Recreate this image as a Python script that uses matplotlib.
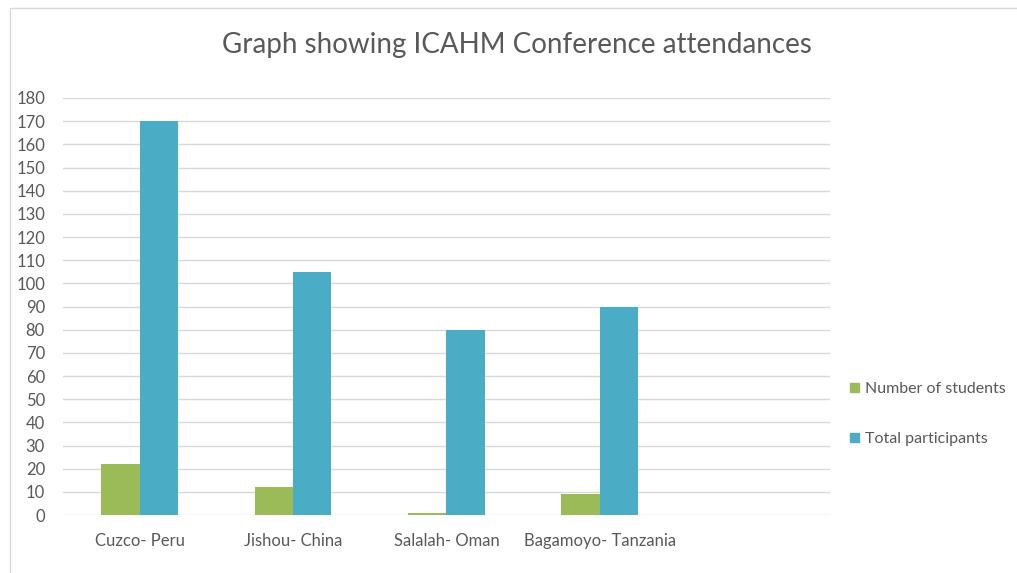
import numpy as np
import matplotlib.pyplot as plt
from matplotlib.patches import Patch, Rectangle

plt.rcParams['font.family'] = ['Lato', 'DejaVu Sans']

places = ["Cuzco- Peru", "Jishou- China", "Salalah- Oman", "Bagamoyo- Tanzania", ""]
students = [22, 12, 1, 9, 0]
total = [170, 105, 80, 90, 0]

green = "#9BBB59"
blue = "#4BACC6"
grey = "#595959"

fig = plt.figure(figsize=(10.17, 5.73), dpi=100)
ax = fig.add_axes([0.062, 0.101, 0.754, 0.728])

x = np.arange(len(places))
w = 0.25
ax.bar(x - w/2, students, w, color=green, zorder=3)
ax.bar(x + w/2, total, w, color=blue, zorder=3)

ax.set_xlim(-0.5, 4.5)
ax.set_ylim(0, 180)
ax.set_yticks(range(0, 181, 10))
ax.set_xticks(x)
ax.set_xticklabels(places)
ax.yaxis.grid(True, color="#D9D9D9", linewidth=1, zorder=0)
for s in ax.spines.values():
    s.set_visible(False)
ax.tick_params(axis='both', length=0, colors=grey, labelsize=12)
ax.tick_params(axis='x', pad=13)
ax.tick_params(axis='y', pad=13)

fig.suptitle("Graph showing ICAHM Conference attendances", x=0.508, y=0.945,
             fontsize=20, color=grey)

handles = [Patch(color=green), Patch(color=blue)]
fig.legend(handles, ["Number of students", "Total participants"],
           loc='center left', bbox_to_anchor=(0.828, 0.277), frameon=False,
           borderpad=0, handlelength=0.55, handleheight=0.55, handletextpad=0.4,
           labelspacing=2.25, fontsize=11.5, labelcolor=grey)

# chart frame
fig.patches.append(Rectangle((10/1017, -0.01), 1.0, (573-8)/573 + 0.01,
                             transform=fig.transFigure, fill=False,
                             edgecolor="#D9D9D9", linewidth=1))

fig.savefig("out.png", dpi=100)
